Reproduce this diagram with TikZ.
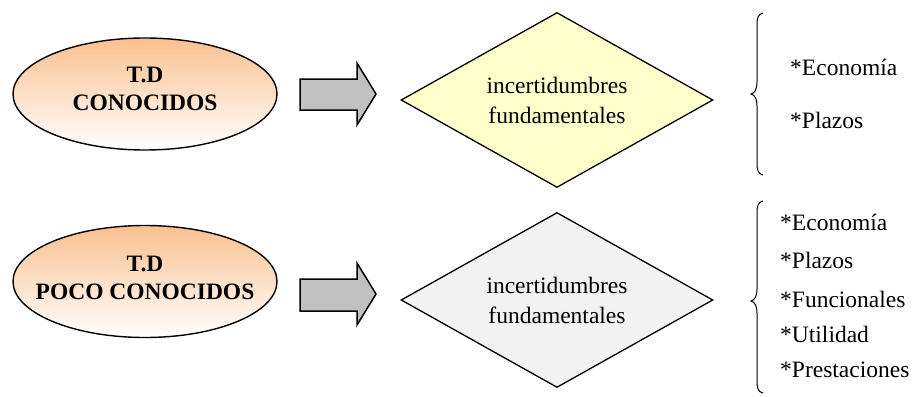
\documentclass[tikz,border=0pt]{standalone}
\usepackage{fontspec}
\setmainfont{Liberation Serif}
\usetikzlibrary{shapes.geometric}
\definecolor{peach}{HTML}{FAC08F}
\definecolor{paleyellow}{HTML}{FFFFCC}
\definecolor{palegray}{HTML}{F2F2F2}
\definecolor{arrowgray}{HTML}{C0C0C0}
\tikzset{
  x=1pt, y=-1pt,
  txt/.style={font=\fontsize{23.5}{30}\selectfont, inner sep=0pt, align=center},
  boldtxt/.style={txt, font=\fontsize{23.5}{28}\selectfont\bfseries},
  oval/.style={ellipse, draw=black, line width=1.4pt, top color=peach, bottom color=white,
    minimum width=264pt, minimum height=112pt, inner sep=0pt},
  rhomb/.style={diamond, draw=black, line width=1.3pt, aspect=1.78,
    minimum width=312pt, minimum height=175pt, inner sep=0pt},
  blockarrow/.style={draw=black, line width=1.5pt, fill=arrowgray, line join=miter},
  listitem/.style={txt, anchor=west, text height=16pt, text depth=5pt},
  bracepath/.style={draw=black, line width=1pt}
}
\begin{document}
\begin{tikzpicture}
\useasboundingbox (0,0) rectangle (912,396);

% ---- upper row ----
\node[oval] (e1) at (145,94) {};
\node[boldtxt] (t1) at (145,89) {T.D\\CONOCIDOS};
\draw[blockarrow] (300,79) -- (357,79) -- (357,63) -- (376,94) -- (357,125) -- (357,110) -- (300,110) -- cycle;
\node[rhomb, fill=paleyellow] (d1) at (557,100) {};
\node[txt] (i1) at (557,100) {incertidumbres\\fundamentales};
\draw[bracepath] (763,13) .. controls (758,14) and (757,18) .. (757,25)
  -- (757,82) .. controls (757,89) and (755,93) .. (751,94)
  .. controls (755,95) and (757,99) .. (757,106)
  -- (757,163) .. controls (757,170) and (758,174) .. (763,175);
\node[listitem] (a1) at (790,70) {*Economía};
\node[listitem] (a2) at (790,123) {*Plazos};

% ---- lower row ----
\node[oval] (e2) at (145,281.5) {};
\node[boldtxt] (t2) at (145,277.5) {T.D\\POCO CONOCIDOS};
\draw[blockarrow] (300,279) -- (357,279) -- (357,263) -- (376,294) -- (357,325) -- (357,311) -- (300,311) -- cycle;
\node[rhomb, fill=palegray] (d2) at (557,300) {};
\node[txt] (i2) at (557,300) {incertidumbres\\fundamentales};
\draw[bracepath] (763,201) .. controls (758,202) and (757,206) .. (757,213)
  -- (757,289) .. controls (757,296) and (755,300) .. (751,301)
  .. controls (755,302) and (757,306) .. (757,313)
  -- (757,381) .. controls (757,388) and (758,392) .. (763,393);
\node[listitem] (b1) at (780,225) {*Economía};
\node[listitem] (b2) at (780,263) {*Plazos};
\node[listitem] (b3) at (780,302) {*Funcionales};
\node[listitem] (b4) at (780,337) {*Utilidad};
\node[listitem] (b5) at (780,372) {*Prestaciones};
\end{tikzpicture}
\end{document}
